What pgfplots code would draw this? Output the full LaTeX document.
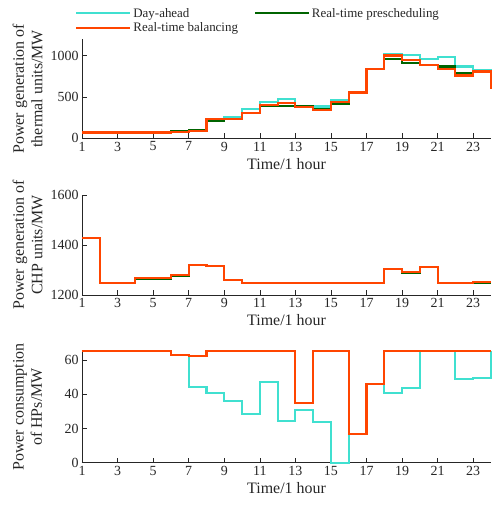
\documentclass[border=0pt]{standalone}
\usepackage{fontspec}
\setmainfont{Liberation Serif}
\usepackage{pgfplots}
\pgfplotsset{compat=1.18}
\definecolor{da}{RGB}{64,224,208}
\definecolor{rtp}{RGB}{0,100,0}
\definecolor{rtb}{RGB}{255,69,0}
\definecolor{axc}{RGB}{38,38,38}
\pgfplotsset{
  base/.style={
    scale only axis, width=409bp, axis lines*=left, xmin=1, xmax=24, xtick={1,3,...,23},
    major tick length=5bp, tick align=inside, tick style={axc, line width=0.6bp},
    axis line style={axc, line width=0.8bp},
    ticklabel style={font=\fontsize{14}{16}\selectfont, text=axc},
    /pgf/number format/assume math mode=true,
    /pgf/number format/1000 sep={},
    label style={font=\fontsize{16}{18.5}\selectfont, text=axc},
    xlabel={Time/1 hour},
    ylabel style={align=center, at={(axis description cs:-0.133,0.5)}, anchor=center},
    clip=false,
    every axis plot/.append style={line width=2.1bp, const plot},
  }
}
\pgfplotstableread{
h da rtp rtb
1 80 78 70
2 80 78 70
3 80 78 70
4 80 78 70
5 80 78 70
6 85 85 80
7 100 100 93
8 222 210 235
9 255 231 231
10 352 304 304
11 437 393 405
12 478 393 425
13 393 393 377
14 385 356 344
15 458 417 437
16 555 555 555
17 838 838 838
18 1025 960 1004
19 1012 911 952
20 964 883 883
21 984 870 842
22 870 790 761
23 830 802 810
24 600 600 595
}\thermal
\pgfplotstableread{
h da rtp rtb
1 1429 1427 1429
2 1249 1247 1249
3 1249 1247 1249
4 1268 1266 1268
5 1268 1266 1268
6 1280 1278 1280
7 1321 1319 1321
8 1317 1315 1317
9 1261 1259 1261
10 1249 1247 1249
11 1249 1247 1249
12 1249 1247 1249
13 1249 1247 1249
14 1249 1247 1249
15 1249 1247 1249
16 1249 1247 1249
17 1249 1247 1249
18 1305 1303 1305
19 1291 1289 1291
20 1313 1311 1313
21 1249 1247 1249
22 1249 1247 1249
23 1252 1250 1252
24 1252 1250 1252
}\chp
\pgfplotstableread{
h da rtp rtb
1 65 65 65
2 65 65 65
3 65 65 65
4 65 65 65
5 65 65 65
6 63 63 63
7 44.4 62.5 62.5
8 40.9 65 65
9 36.2 65 65
10 28.4 65 65
11 47.1 65 65
12 24.5 65 65
13 30.8 34.7 34.7
14 24 65 65
15 0 65 65
16 16.8 16.8 16.8
17 45.8 45.8 45.8
18 40.5 65 65
19 43.8 65 65
20 65 65 65
21 65 65 65
22 48.7 65 65
23 49.6 65 65
24 65 65 65
}\hps
\begin{document}
\begin{tikzpicture}
\path[use as bounding box] (0,0) rectangle (492bp,507bp);
\begin{axis}[base, at={(82bp,368.7bp)}, anchor=south west, height=99bp,
  ymin=0, ymax=1200, ytick={0,500,1000},
  ylabel={Power generation of\\thermal units/MW},
  legend style={at={(axis description cs:-0.024,1.357)}, anchor=north west, draw=none, fill=none,
    font=\fontsize{13}{15}\selectfont, text=axc, /tikz/every even column/.append style={column sep=14bp}},
  legend columns=2, legend cell align=left,
  legend image code/.code={\draw[#1,line width=2bp] (0bp,0bp) -- (54bp,0bp);}]
\addplot[da] table[x=h,y=da] {\thermal};
\addlegendentry{Day-ahead}
\addplot[rtp] table[x=h,y=rtp] {\thermal};
\addlegendentry{Real-time prescheduling}
\addplot[rtb] table[x=h,y=rtb] {\thermal};
\addlegendentry{Real-time balancing}
\end{axis}
\begin{axis}[base, at={(82bp,212bp)}, anchor=south west, height=100bp,
  ymin=1200, ymax=1600, ytick={1200,1400,1600},
  ylabel={Power generation of\\CHP units/MW}]
\addplot[da] table[x=h,y=da] {\chp};
\addplot[rtp] table[x=h,y=rtp] {\chp};
\addplot[rtb] table[x=h,y=rtb] {\chp};
\end{axis}
\begin{axis}[base, at={(82bp,44.3bp)}, anchor=south west, height=111.3bp,
  ymin=0, ymax=65, ytick={0,20,40,60},
  ylabel={Power consumption\\of HPs/MW}]
\addplot[da] table[x=h,y=da] {\hps};
\addplot[rtp] table[x=h,y=rtp] {\hps};
\addplot[rtb] table[x=h,y=rtb] {\hps};
\end{axis}
\end{tikzpicture}
\end{document}
